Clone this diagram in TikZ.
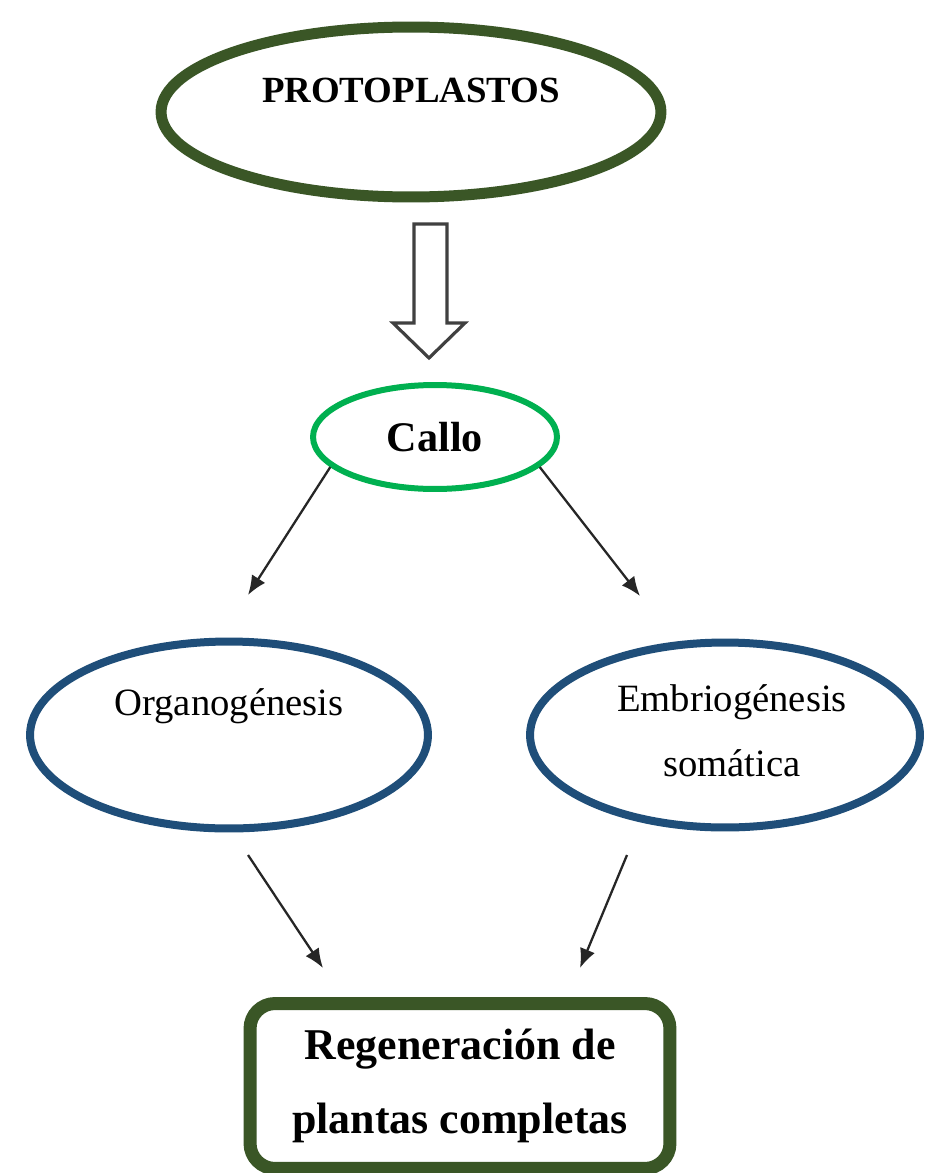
\documentclass[tikz,border=0pt]{standalone}
\usepackage{fontspec}
\setmainfont{Liberation Serif}
\usetikzlibrary{arrows.meta, positioning, shapes.geometric}
\definecolor{oliva}{HTML}{3A5626}
\definecolor{verde}{HTML}{00B050}
\definecolor{azul}{HTML}{1F4E79}

\begin{document}
\begin{tikzpicture}[x=0.02cm, y=-0.02cm,
    elipse/.style={ellipse, draw, inner sep=0pt},
    etiq/.style={inner sep=0pt, font=\fontsize{22}{37}\selectfont},
    flecha/.style={-{Latex[length=11pt,width=9pt]}, line width=1.3pt, black!85}]
    \useasboundingbox[fill=white] (0,0) rectangle (928,1173);

    % elipses y caja final
    \node[elipse, oliva, line width=0.22cm, minimum width=10cm, minimum height=3.4cm] (proto) at (411,112) {};
    \node[anchor=base, inner sep=0pt, font=\fontsize{21}{25}\selectfont\bfseries] (protoTxt) at (411,102) {PROTOPLASTOS};

    \node[elipse, verde, line width=0.12cm, minimum width=4.88cm, minimum height=2.08cm,
          text=black, font=\fontsize{24}{28}\selectfont\bfseries] (callo) at (435,437) {Callo};

    \node[elipse, azul, line width=0.16cm, minimum width=7.96cm, minimum height=3.74cm] (organo) at (229,735) {};
    \node[etiq, anchor=base] (organoTxt) at (229,715) {Organogénesis};

    \node[elipse, azul, line width=0.16cm, minimum width=7.8cm, minimum height=3.7cm] (embrio) at (725,735) {};
    \node[etiq, align=center] (embrioTxt) at (732,731) {Embriogénesis\\somática};

    \node[draw=oliva, line width=0.26cm, rounded corners=0.5cm, minimum width=8.4cm, minimum height=3.3cm,
          align=center, font=\fontsize{25}{42}\selectfont\bfseries] (regen) at (460,1086)
          {Regeneración de\\plantas completas};

    % flecha hueca
    \draw[black!75, line width=1.8pt, fill=white]
      (414,224) -- (447,224) -- (447,323) -- (465,323) -- (429,358)
      -- (393,323) -- (414,323) -- cycle;

    % flechas
    \coordinate (izq) at (248,595);
    \coordinate (der) at (640,596);
    \draw[flecha] (callo.196) -- (izq);
    \draw[flecha] (callo.344) -- (der);

    \coordinate (o1) at (248,855);
    \coordinate (o2) at (323,968);
    \coordinate (e1) at (627,855);
    \coordinate (e2) at (580,968);
    \draw[flecha] (o1) -- (o2);
    \draw[flecha] (e1) -- (e2);
  \end{tikzpicture}
\end{document}
